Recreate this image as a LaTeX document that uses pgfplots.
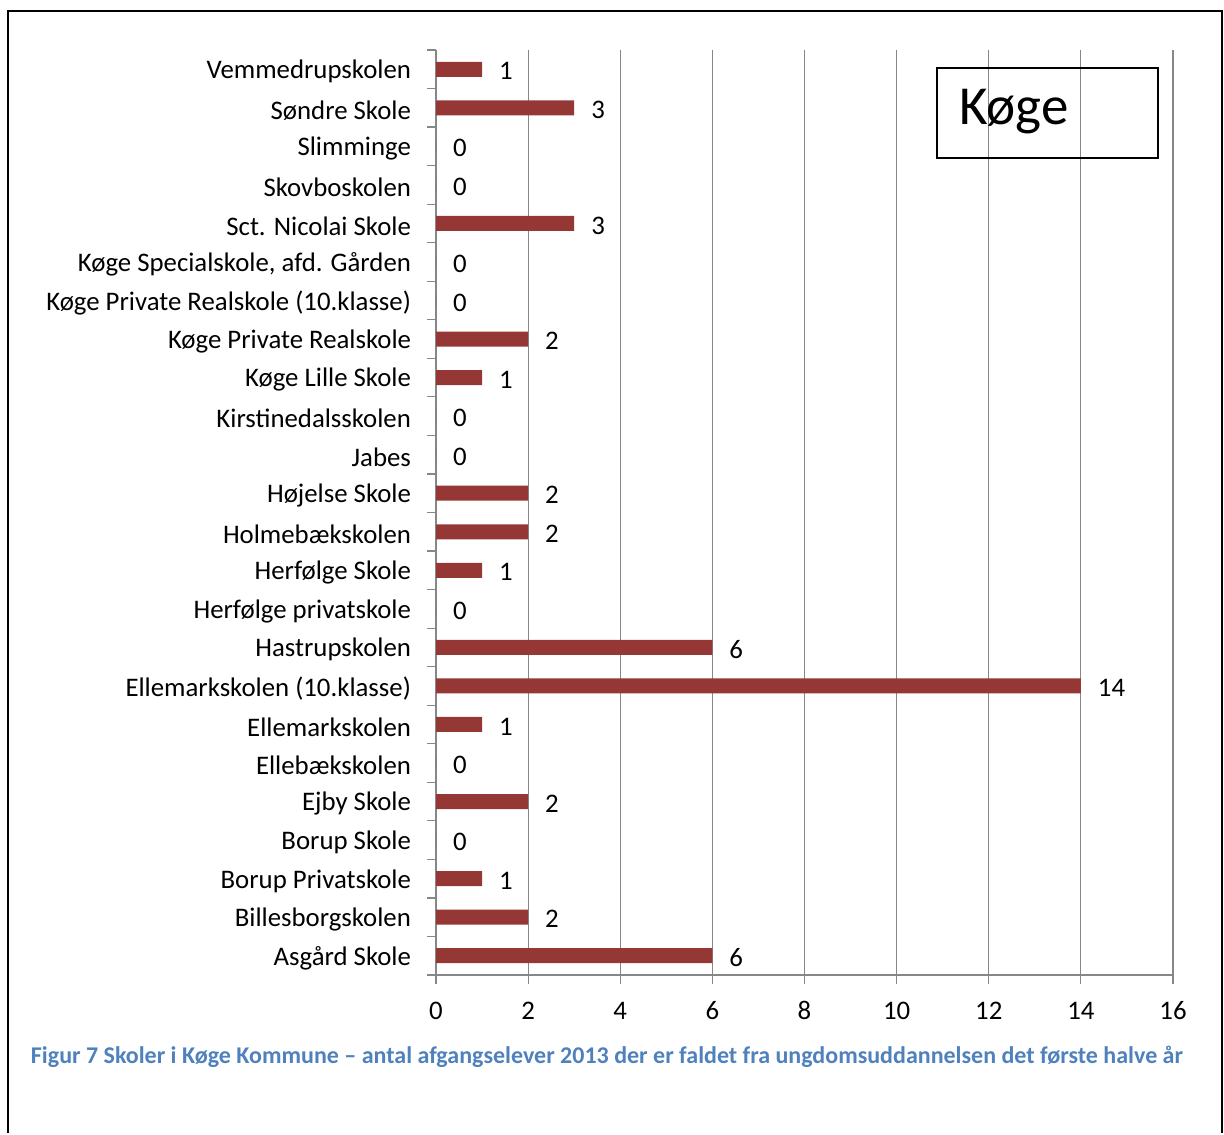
\documentclass[border=0pt]{standalone}
\usepackage{pgfplots}
\pgfplotsset{compat=1.18}
\usepackage{fontspec}
\setmainfont{Carlito}
\definecolor{barred}{HTML}{953735}
\definecolor{gridgray}{HTML}{878787}
\definecolor{capblue}{HTML}{4F81BD}
\begin{document}
\begin{tikzpicture}[x=1pt,y=1pt]
% page 612 x 566.5 pt (1224 x 1133 px at 0.5 pt per px)
\path (0,0) rectangle (612,566.5);
\draw[line width=1pt] (4,0) -- (4,561) -- (611,561) -- (611,0);
\begin{axis}[
    at={(218pt,79pt)}, anchor=south west,
    scale only axis,
    width=368.5pt, height=462.5pt,
    xbar, bar width=7.5pt,
    xmin=0, xmax=16,
    xtick={0,2,...,16},
    minor xtick={0,2,...,16},
    ymin=-0.5, ymax=23.5,
    ytick={0,...,23},
    yticklabels={Asgård Skole,Billesborgskolen,Borup Privatskole,Borup Skole,Ejby Skole,Ellebækskolen,Ellemarkskolen,Ellemarkskolen (10.klasse),Hastrupskolen,Herfølge privatskole,Herfølge Skole,Holmebækskolen,Højelse Skole,Jabes,Kirstinedalsskolen,Køge Lille Skole,Køge Private Realskole,Køge Private Realskole (10.klasse),{Køge Specialskole, afd. Gården},Sct. Nicolai Skole,Skovboskolen,Slimminge,Søndre Skole,Vemmedrupskolen},
    minor ytick={-0.5,0.5,...,23.5},
    axis x line*=bottom, axis y line*=left,
    axis line style={gridgray, line width=0.6pt},
    tick style={gridgray, line width=0.6pt},
    major tick length=0pt,
    minor tick length=4.5pt,
    tick align=outside,
    xmajorgrids, grid style={gridgray, line width=0.6pt},
    /pgf/number format/assume math mode=true,
    tick label style={font=\fontsize{13.4}{15}\selectfont, text=black},
    yticklabel style={xshift=-9pt, yshift=-1.2pt},
    xticklabel style={yshift=-10.5pt, text depth=0pt, text height=8pt},
    nodes near coords,
    nodes near coords style={font=\fontsize{13.4}{15}\selectfont, text=black, anchor=west, xshift=5pt, yshift=-1pt},
]
\addplot[fill=barred, draw=none] coordinates {
(6,0) (2,1) (1,2) (0,3) (2,4) (0,5) (1,6) (14,7) (6,8) (0,9) (1,10) (2,11)
(2,12) (0,13) (0,14) (1,15) (2,16) (0,17) (0,18) (3,19) (0,20) (0,21) (3,22) (1,23)
};
\end{axis}
\draw[line width=0.9pt] (468.5,487.5) rectangle (579,532.5);
\node[anchor=west, font=\fontsize{27.5}{32}\selectfont] at (476,510.5) {Køge};
\node[font=\bfseries\fontsize{12}{14}\selectfont, text=capblue] at (303.5,38) {Figur 7 Skoler i Køge Kommune -- antal afgangselever 2013 der er faldet fra ungdomsuddannelsen det første halve år};
\end{tikzpicture}
\end{document}
